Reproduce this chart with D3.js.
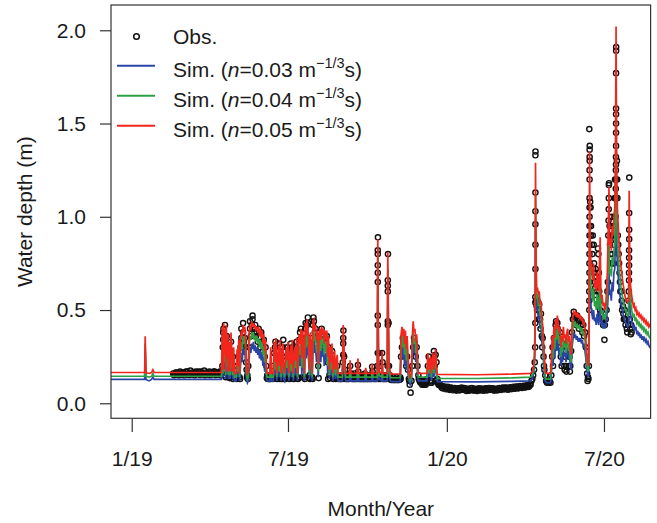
<!DOCTYPE html>
<html><head><meta charset="utf-8">
<script src="https://cdn.jsdelivr.net/npm/d3@7"></script>
<style>
body{margin:0;background:#fff}
svg{display:block}
text{font-family:"Liberation Sans",Arial,Helvetica,sans-serif;fill:#1a1a1a}
</style>
</head><body>
<svg id="chart" width="657" height="523"></svg>
<script>
// ---------- data (day = days since 1 Jan 2019) ----------
const xTickDates = ["2019-01-01","2019-07-01","2020-01-01","2020-07-01"];
const xTickLabels = ["1/19","7/19","1/20","7/20"];
const yTicks = [0, 0.5, 1.0, 1.5, 2.0];
const seriesNames = ["Obs.", "n=0.03", "n=0.04", "n=0.05"];

// simulated depth rows: [day, n=0.03, n=0.04, n=0.05]
const simEarly2019 = [
 [-24,.128,.145,.165],[15,.128,.145,.165],[15.6,.28,.32,.36],[16.5,.128,.145,.165],
 [20,.12,.14,.16],[23,.128,.145,.165],[24.5,.14,.16,.18],[26,.128,.145,.165],[104,.128,.145,.165]
];
const simWet2019 = [
 [105,.30,.35,.41],[105.7,.14,.16,.18],[106.5,.32,.38,.43],[107.3,.18,.22,.26],[108,.28,.34,.40],
 [108.8,.13,.15,.17],[109.6,.30,.36,.42],[110.5,.16,.2,.24],[111.3,.25,.31,.37],[112,.13,.15,.17],
 [113,.22,.27,.33],[114,.13,.15,.17],[115,.26,.32,.38],[116,.18,.22,.27],[117,.13,.15,.17],
 [118,.2,.24,.3],[119,.12,.14,.16],[121,.12,.14,.16],[122,.18,.23,.29],[123,.14,.17,.2],
 [124,.22,.28,.34],[125,.12,.14,.16],[126,.2,.26,.33],[127,.27,.33,.39],[128,.22,.29,.36],
 [129,.3,.36,.42],[130,.26,.32,.38],[131,.29,.35,.41],[132,.2,.27,.34],[133,.13,.16,.2],
 [134,.11,.13,.16],[135,.12,.14,.17],[136,.24,.31,.38],[137,.3,.36,.41],[138,.27,.34,.4],
 [139,.32,.38,.44],[140,.29,.35,.41],[141,.33,.38,.43],[142,.28,.34,.4],[143,.31,.36,.42],
 [144,.27,.33,.39],[145,.3,.36,.41],[146,.26,.32,.38],[147,.29,.35,.41],[148,.24,.3,.36],
 [149,.28,.34,.4],[150,.23,.29,.35],[151,.27,.33,.39],[152,.2,.26,.32],[153,.25,.31,.37],
 [154,.17,.22,.28],[155,.22,.28,.34],[156,.13,.16,.2],[157,.12,.14,.16],[160,.12,.14,.16],
 [161,.2,.25,.3],[162,.12,.14,.16],[164,.12,.14,.16],[165,.22,.27,.33],[166,.15,.18,.22],
 [167,.25,.3,.35],[168,.12,.14,.16],[170,.2,.25,.31],[171,.14,.17,.2],[172,.24,.29,.34],
 [173,.12,.14,.16],[175,.22,.27,.32],[176,.13,.16,.19],[177,.12,.14,.16],[179,.2,.25,.3],
 [180,.15,.19,.23],[181,.23,.28,.33],[182,.12,.14,.16],[184,.21,.26,.31],[185,.14,.17,.21],
 [186,.24,.29,.34],[187,.12,.14,.16],[189,.2,.25,.3],[190,.15,.19,.23],[191,.26,.31,.35],
 [192,.12,.14,.16],[194,.25,.31,.37],[195,.2,.26,.32],[196,.28,.34,.4],[197,.15,.19,.24],
 [198,.27,.33,.39],[199,.2,.26,.31],[200,.12,.14,.16],[201,.3,.37,.43],[202,.24,.3,.36],
 [203,.32,.39,.45],[204,.28,.34,.4],[205,.22,.28,.34],[206,.13,.15,.18],[207,.26,.32,.38],
 [208,.2,.25,.3],[209,.12,.14,.16],[210,.3,.37,.44],[211,.33,.39,.45],[212,.27,.33,.39],
 [213,.3,.36,.42],[214,.22,.28,.34],[215,.27,.33,.39],[216,.14,.17,.21],[217,.24,.3,.36],
 [218,.28,.34,.4],[219,.22,.28,.34],[220,.3,.36,.41],[221,.25,.31,.37],[222,.29,.35,.4],
 [223,.2,.26,.32],[224,.27,.33,.39],[225,.22,.28,.34],[226,.28,.34,.39],[227,.16,.2,.25],
 [228,.24,.3,.36],[229,.13,.15,.18],[230,.2,.25,.3],[231,.15,.18,.22],[232,.22,.27,.32],
 [233,.12,.14,.16],[235,.2,.24,.28],[236,.13,.15,.18],[238,.18,.22,.26],[239,.12,.14,.16],
 [244,.12,.14,.16],[245,.3,.36,.42],[246,.2,.24,.28],[247,.14,.17,.2],[248,.12,.14,.16],
 [252,.12,.14,.16],[253,.17,.2,.23],[254,.12,.14,.16],[261,.12,.14,.16],[262,.18,.21,.24],
 [263,.12,.14,.16],[270,.12,.14,.16],[271,.15,.17,.19],[272,.12,.14,.16],[278,.12,.14,.16],
 [278.5,.17,.19,.21],[279.5,.12,.14,.16],[284.5,.12,.14,.16],[285,.75,.83,.88],[285.8,.2,.22,.25],
 [286.5,.13,.15,.17],[289.5,.12,.14,.16],[290,.22,.25,.28],[290.8,.12,.14,.16],[296,.12,.14,.16],
 [296.6,.6,.72,.81],[297.3,.35,.42,.48],[298,.15,.17,.2],[300,.116,.137,.157],[311,.116,.137,.157],
 [312,.25,.31,.37],[313,.3,.36,.41],[314,.24,.3,.36],[315,.32,.38,.4],[316,.2,.26,.32],
 [317,.28,.34,.39],[318,.18,.23,.29],[319,.25,.3,.36],[320,.16,.2,.25],[321,.12,.14,.17],
 [322.5,.1,.12,.14],[324,.12,.14,.16],[325,.25,.3,.36],[326,.33,.38,.44],[327,.27,.32,.38],
 [328,.3,.35,.4],[329,.22,.27,.33],[330,.26,.32,.37],[331,.16,.2,.25],[332,.12,.14,.16],
 [342,.12,.14,.16],[343,.2,.23,.27],[344,.14,.16,.18],[346,.18,.21,.25],[347,.12,.14,.16],
 [349,.2,.24,.27],[350,.14,.16,.18],[352,.22,.25,.29],[353,.15,.17,.2]
];
const simDry = [
 [354,.116,.134,.155],[400,.115,.133,.153],[440,.118,.136,.156],[462,.12,.14,.16]
];
const simWet2020 = [
 [464,.13,.15,.17],[465.5,.16,.18,.2],[466.5,.2,.23,.26],[467.3,.35,.4,.45],[467.7,.98,1.12,1.29],
 [468.3,.62,.72,.8],[469,.5,.56,.6],[470,.52,.58,.62],[471,.45,.52,.58],[472,.48,.54,.6],
 [473,.4,.47,.53],[474,.42,.48,.55],[475,.33,.4,.46],[476,.3,.36,.42],[477,.22,.27,.33],
 [478,.16,.2,.25],[479,.12,.14,.17],[480,.11,.13,.16],[485,.11,.13,.16],[486,.15,.18,.22],
 [487,.26,.31,.36],[488,.2,.24,.29],[489,.3,.35,.41],[490,.24,.29,.35],[491,.33,.39,.45],
 [492,.28,.34,.4],[493,.35,.41,.47],[494,.3,.36,.42],[495,.26,.32,.38],[496,.3,.36,.41],
 [497,.2,.25,.3],[498,.26,.31,.36],[499,.22,.28,.33],[500,.3,.36,.41],[501,.25,.3,.35],
 [502,.27,.32,.37],[503,.22,.27,.32],[504,.28,.33,.38],[505,.3,.35,.4],[506,.24,.28,.33],
 [507,.27,.31,.36],[508,.2,.24,.28],[509,.18,.22,.26],[510,.3,.36,.42],[511,.34,.4,.46],
 [512,.38,.44,.49],[513,.35,.42,.48],[514,.37,.43,.49],[515,.34,.41,.47],[516,.36,.42,.48],
 [517,.33,.4,.46],[518,.35,.42,.48],[519,.33,.39,.45],[520,.35,.41,.47],[521,.32,.38,.44],
 [522,.34,.4,.46],[523,.3,.36,.42],[524,.32,.38,.44],[525,.28,.34,.4],[526,.24,.29,.34],
 [527,.18,.22,.27],[528,.15,.18,.22],[529,.14,.17,.2],[529.8,.3,.38,.46],[530.3,.82,1.0,1.35],
 [531,.6,.72,.85],[532,.52,.62,.75],[533,.48,.58,.7],[534,.45,.55,.66],[535,.5,.62,.75],
 [536,.44,.52,.62],[537,.46,.55,.66],[538,.42,.5,.6],[539,.48,.58,.7],[540,.44,.52,.63],
 [541,.42,.5,.6],[542,.5,.65,.8],[542.6,.55,.7,.89],[543.3,.45,.53,.62],[544,.42,.48,.56],
 [545,.44,.5,.57],[546,.4,.45,.52],[547,.43,.48,.54],[548,.4,.45,.5],[549,.42,.47,.52],
 [550,.45,.52,.6],[551,.5,.6,.72],[552,.6,.75,.95],[552.8,.7,.88,1.16],[553.5,.58,.7,.85],
 [554.5,.6,.72,.88],[555.5,.55,.68,.82],[556.5,.65,.78,.95],[557.5,.6,.74,.9],[558.5,.7,.82,1.0],
 [559.5,.72,.85,1.05],[560.3,.9,1.1,1.3],[561,1.4,1.79,2.02],[561.7,.85,1.0,1.2],[562.5,.75,.88,1.05],
 [563.5,.68,.8,.95],[564.5,.62,.72,.86],[565.5,.58,.68,.8],[566.5,.55,.63,.74],[567.5,.52,.6,.7],
 [568.5,.5,.57,.66],[569.5,.47,.54,.63],[570.5,.46,.52,.6],[571.5,.44,.5,.57],[572.5,.43,.49,.56],
 [573.5,.42,.48,.55],[574.5,.41,.47,.54],[575.5,.42,.48,.55],[576.2,.72,.92,1.14],[576.9,.55,.63,.72],
 [577.8,.48,.55,.63],[579,.44,.5,.58],[580,.42,.48,.55],[581,.4,.46,.52],[582,.42,.48,.53],
 [583,.39,.44,.5],[584,.41,.46,.51],[585,.37,.43,.48],[586,.39,.44,.49],[587,.36,.42,.47],
 [588,.38,.43,.48],[589,.35,.41,.46],[590,.37,.42,.47],[591,.34,.4,.45],[592,.36,.41,.46],
 [593,.34,.39,.44],[594,.35,.4,.45],[595,.33,.38,.43],[596,.34,.39,.44],[597,.32,.37,.42],
 [598,.33,.38,.43],[599,.31,.36,.41],[600,.3,.35,.42],[601,.3,.35,.41]
];

// observed depth: [day, depth]
const obsEarly2019 = [
 [48,.16],[49,.15],[50,.155],[51,.165],[52,.165],[53,.155],[54,.16],[55,.15],[56,.17],[57,.16],
 [58,.155],[59,.165],[60,.165],[61,.15],[62,.16],[63,.17],[64,.17],[65,.155],[66,.16],[67,.152],
 [68,.175],[69,.16],[70,.165],[71,.155],[72,.16],[73,.15],[74,.17],[75,.158],[76,.16],[77,.17],
 [78,.165],[79,.152],[80,.17],[81,.16],[82,.16],[83,.155],[84,.175],[85,.15],[86,.165],[87,.16],
 [88,.16],[89,.155],[90,.17],[91,.15],[92,.165],[93,.158],[94,.16],[95,.17],[96,.17],[97,.152],
 [98,.165],[99,.155],[100,.16],[101,.165],[102,.17],[103,.15],[104,.165]
];
const obsBase2019 = [
 [113.5,.135],[117.5,.13],[120,.135],[121.5,.13],[125.5,.13],[133.5,.14],[134.5,.13],[156.5,.135],
 [157.5,.13],[158.5,.135],[159,.13],[160.5,.135],[161,.13],[162.5,.135],[163.5,.13],[167.5,.135],
 [168.5,.13],[169,.14],[171.5,.13],[173.5,.135],[174,.13],[176.5,.13],[177.5,.135],[178,.13],
 [182.5,.135],[183,.13],[187.5,.13],[188,.135],[192.5,.13],[193,.135],[197.5,.14],[200.5,.13],
 [205.5,.135],[206.5,.13],[208.5,.135],[209.5,.13],[216.5,.135],[227.5,.13],[229.5,.135],[233.5,.13],
 [234,.135],[236.5,.13],[237,.135],[239.5,.13],[240,.135],[241.5,.13],[242,.14],[242.5,.13],
 [243.5,.135],[244,.13],[247.5,.13],[248.5,.135],[249,.13],[249.5,.14],[250.5,.13],[251,.135],
 [251.5,.13],[254.5,.135],[255,.13],[255.5,.14],[256.5,.13],[257,.135],[257.5,.13],[258.5,.14],
 [259,.13],[259.5,.135],[260.5,.13],[261,.14],[263,.13],[263.5,.135],[264.5,.13],[265,.135],
 [265.5,.13],[266.5,.135],[267,.13],[267.5,.14],[268.5,.13],[269,.135],[269.5,.13],[270.5,.135],
 [271,.13],[271.5,.14],[272.5,.13],[273,.135],[273.5,.13],[274.5,.135],[275,.13],[275.5,.14],
 [276.5,.13],[277,.135],[277.5,.13],[280,.135],[280.5,.13],[281.5,.135],[282,.13],[282.5,.14],
 [283.5,.13],[284,.135],[286,.13],[287.5,.135],[288.5,.13],[289,.135],[291.5,.13],[292,.135],
 [292.5,.13],[293.5,.135],[294,.13],[294.5,.14],[295.5,.13],[298.5,.13],[299.5,.135],[300,.13],
 [300.5,.125],[301.5,.13],[302,.125],[302.5,.13],[303.5,.125],[304,.13],[304.5,.125],[305.5,.13],
 [306,.125],[306.5,.13],[307.5,.125],[308,.13],[308.5,.125],[309.5,.13],[310,.125],[310.5,.13],
 [311.5,.13],[321.5,.12],[332.5,.13],[333.5,.12],[334.5,.11],[335,.12],[335.5,.11],[336.5,.1],
 [337,.11],[337.5,.1],[338.5,.11],[339,.1],[339.5,.11],[340.5,.1],[341,.11],[341.5,.12],
 [345.5,.12],[346,.11],[346.5,.12],[347.5,.11],[351.5,.12],[354.5,.11],[355.5,.1],[356.5,.105],[357,.095]
];
const obsWet2019 = [
 [105,.2],[105.5,.3],[106,.38],[106,.34],[106.3,.4],[107,.15],[108,.42],[108,.36],[108.5,.3],[109,.14],
 [110,.36],[110,.3],[111,.2],[112,.3],[112,.25],[113,.14],[114,.2],[115,.33],[115,.28],[116,.15],
 [117,.25],[118,.14],[119,.2],[119.5,.15],[121,.14],[122,.2],[123,.15],[124,.25],[125,.14],[126,.3],
 [127,.35],[127,.4],[128,.3],[129,.43],[129,.38],[130,.33],[131,.35],[132,.3],[132.5,.22],[133,.18],
 [134,.15],[135,.2],[136,.3],[137,.4],[137,.44],[138,.36],[139,.42],[140,.47],[140,.45],[141,.4],
 [142,.38],[143,.42],[144,.36],[145,.38],[146,.33],[147,.4],[148,.35],[149,.3],[150,.38],[151,.33],
 [152,.28],[153,.34],[154,.25],[155,.3],[156,.2],[157,.15],[158,.14],[160,.13],[162,.14],[163,.2],
 [164,.15],[165,.27],[166,.3],[166.5,.33],[167,.2],[168,.14],[170,.28],[170.5,.32],[171,.18],[172,.3],
 [173,.14],[175,.3],[175.5,.34],[176,.2],[177,.14],[179,.25],[180,.3],[181,.27],[182,.14],[184,.28],
 [184.5,.32],[185,.2],[186,.3],[187,.14],[189,.26],[190,.3],[191,.33],[192,.14],[194,.34],[195,.38],
 [196,.4],[197,.25],[198,.35],[199,.3],[200,.14],[201,.4],[201.5,.43],[202,.35],[203,.42],[204,.46],
 [204.3,.43],[205,.32],[206,.15],[207,.35],[208,.28],[209,.14],[210,.42],[210.5,.46],[211,.44],[212,.38],
 [213,.4],[214,.32],[215,.36],[216,.2],[217,.33],[218,.38],[219,.3],[220,.4],[221,.34],[222,.37],
 [223,.27],[224,.35],[225,.3],[226,.36],[227,.22],[228,.3],[229,.15],[230,.25],[231,.2],[232,.28],
 [233,.14],[235,.22],[236,.15],[238,.2],[239,.14],[241,.14],[243,.15],[244.5,.22],[245,.26],[245,.32],
 [245,.35],[245.2,.39],[246,.25],[247,.18],[248,.15],[250,.15],[252,.16],[253,.2],[254,.16],[256,.15],
 [258,.16],[260,.15],[262,.205],[262.5,.17],[264,.15],[266,.14],[268,.15],[270,.16],[272,.15],[274,.14],
 [276,.15],[278.5,.196],[279,.17],[281,.15],[283,.14],[284.5,.2],[285,.27],[285,.42],[285,.47],[285,.65],
 [285,.7],[285,.74],[285,.8],[285,.82],[285.2,.89],[286.5,.27],[287,.2],[288,.15],[290,.27],[290.5,.22],
 [291,.15],[293,.14],[295,.15],[296.4,.2],[296.6,.42],[296.6,.44],[296.6,.6],[296.6,.63],[296.6,.66],[296.8,.8],
 [297.5,.43],[298,.2],[299,.15],[301,.13],[303,.14],[305,.13],[307,.14],[309,.13],[311,.14],[312,.25],
 [313,.3],[314,.35],[314.5,.33],[315,.28],[316,.3],[317,.25],[318,.2],[319,.25],[320,.18],[321,.13],
 [322,.1],[323,.057],[324,.12],[325,.2],[326,.3],[327,.35],[327.5,.33],[328,.28],[329,.25],[330,.3],
 [331,.2],[332,.15],[334,.12],[336,.11],[338,.1],[340,.12],[342,.13],[343,.2],[344,.25],[345,.15],
 [347,.12],[348,.2],[349,.22],[350,.28],[350.5,.25],[351,.2],[352,.26],[353,.22],[354,.13],[355,.11],[356,.1]
];
const obsDry = [
 [358,.095],[359,.085],[360,.08],[361,.09],[362,.09],[363,.08],[364,.075],[365,.085],[366,.088],[367,.078],
 [368,.072],[369,.082],[370,.085],[371,.075],[372,.07],[373,.08],[374,.082],[375,.072],[376,.068],[377,.078],
 [378,.08],[379,.07],[380,.07],[381,.08],[382,.085],[383,.075],[384,.072],[385,.082],[386,.08],[387,.07],
 [388,.066],[389,.076],[390,.078],[391,.068],[392,.07],[393,.08],[394,.082],[395,.072],[396,.068],[397,.076],
 [398,.078],[399,.07],[400,.066],[401,.075],[402,.08],[403,.07],[404,.07],[405,.079],[406,.077],[407,.068],
 [408,.068],[409,.078],[410,.08],[411,.07],[412,.07],[413,.08],[414,.082],[415,.074],[416,.072],[417,.08],
 [418,.08],[419,.07],[420,.068],[421,.076],[422,.078],[423,.07],[424,.07],[425,.08],[426,.082],[427,.074],
 [428,.072],[429,.082],[430,.085],[431,.076],[432,.075],[433,.084],[434,.083],[435,.075],[436,.073],[437,.082],
 [438,.086],[439,.078],[440,.076],[441,.086],[442,.088],[443,.08],[444,.078],[445,.088],[446,.09],[447,.082],
 [448,.08],[449,.09],[450,.092],[451,.084],[452,.082],[453,.092],[454,.094],[455,.086],[456,.085],[457,.095],
 [458,.096],[459,.09],[460,.088],[461,.098],[462,.1]
];
const obsWet2020 = [
 [463,.12],[464,.13],[465,.15],[466,.18],[466.8,.22],[467.3,.3],[467.5,.43],[467.5,.54],[467.5,.57],[467.6,.72],
 [467.6,.85],[467.6,.96],[467.6,1.03],[467.6,1.13],[467.6,1.33],[467.7,1.35],[468.5,.55],[469,.52],[469.5,.5],[470,.55],
 [471,.5],[471.5,.45],[472,.53],[473,.45],[473.5,.4],[474,.48],[475,.36],[475.5,.3],[476,.35],[477,.25],
 [477.5,.2],[478,.18],[479,.15],[480,.12],[481,.11],[482,.12],[483,.11],[484,.12],[485,.11],[486,.15],
 [487,.25],[487.5,.3],[488,.2],[489,.35],[490,.3],[491,.42],[491.5,.44],[492,.38],[493,.43],[493.5,.4],
 [494,.35],[495,.3],[496,.38],[497,.25],[498,.2],[499,.32],[500,.28],[501,.2],[501.5,.18],[502,.25],
 [503,.2],[503.5,.17],[504,.3],[505,.26],[506,.2],[507,.25],[507.5,.17],[508,.2],[509,.28],[510,.38],
 [511,.45],[512,.49],[512.5,.47],[513,.45],[514,.46],[515,.42],[516,.47],[517,.44],[518,.4],[519,.45],
 [520,.42],[521,.44],[522,.38],[523,.42],[524,.36],[525,.38],[526,.3],[527,.2],[527.5,.16],[528,.12],
 [528.5,.14],[529,.13],[529.5,.2],[530,.5],[530,.55],[530,.6],[530.2,.65],[530.2,.7],[530.2,.75],[530.2,.8],
 [530.2,.85],[530.3,.9],[530.3,.95],[530.3,1.0],[530.3,1.05],[530.3,1.1],[530.3,1.2],[530.3,1.25],[530.4,1.3],[530.4,1.32],
 [530.4,1.36],[530.5,1.38],[530,1.47],[531,1.08],[531.5,1.05],[532,.95],[532,.9],[533,.85],[533.5,.8],[534,.9],
 [534.5,.72],[535,.85],[535.5,.75],[536,.7],[536.5,.65],[537,.62],[537.5,.72],[538,.58],[538.5,.68],[539,.6],
 [540,.83],[540.5,.8],[541,.7],[541.5,.6],[542,.55],[542.5,.5],[543,.48],[544,.47],[545,.45],[546,.42],
 [547,.45],[547.5,.34],[548,.42],[549,.45],[550,.5],[551,.6],[551.5,.65],[552,.9],[552.3,.98],[552.5,1.04],
 [552.6,1.1],[552.7,1.17],[552.8,1.18],[553.5,.95],[554,.85],[554.5,.8],[555,.9],[555.5,.75],[556,1.0],[556.5,.8],
 [557,.9],[557.5,.75],[558,.95],[558.5,.85],[559,1.0],[559.5,1.1],[559.8,1.2],[560.2,.88],[560.4,.95],[560.5,1.0],
 [560.6,1.1],[560.7,1.15],[560.8,1.2],[560.8,1.25],[560.9,1.28],[560.9,1.32],[561,1.38],[561,1.45],[561,1.5],[561,1.55],
 [561,1.58],[561,1.77],[561.1,1.89],[561.1,1.91],[562,1.3],[562.3,1.2],[562.5,1.1],[563,.9],[563.5,.85],[564,.8],
 [564.5,.75],[565,.7],[565.5,.65],[566,.6],[567,.6],[567.5,.55],[568,.5],[569,.52],[569.5,.48],[570,.45],
 [571,.5],[571.5,.45],[572,.42],[573,.45],[573.5,.4],[574,.38],[575,.42],[575.5,.55],[575.8,.6],[576,.66],
 [576,.7],[576.1,.74],[576.1,.78],[576.1,.82],[576.2,.88],[576.2,.93],[576.2,1.02],[576.3,1.21],[577,.45],[577.5,.4],
 [578,.37],[578.5,.42],[579,.38]
];

// ---------- drawing ----------
const svg = d3.select("#chart");
const parse = d3.timeParse("%Y-%m-%d");
const t0 = new Date(2019, 0, 1).getTime();
const dateOf = d => new Date(t0 + d * 864e5);

const plot = {left: 111, right: 650.6, top: 5, bottom: 418.3};
const x = d3.scaleTime()
  .domain([new Date(2018, 11, 8), new Date(2020, 7, 24)])
  .range([plot.left, plot.right]);
const y = d3.scaleLinear().domain([-0.0805, 2.1355]).range([plot.bottom, plot.top]);

const colors = {n003: "#2a44a8", n004: "#2ea043", n005: "#f2261c"};

svg.append("defs").append("clipPath").attr("id", "clip")
  .append("rect").attr("x", plot.left).attr("y", plot.top)
  .attr("width", plot.right - plot.left).attr("height", plot.bottom - plot.top);

const g = svg.append("g").attr("clip-path", "url(#clip)");

const obs = [].concat(obsEarly2019, obsBase2019, obsWet2019, obsDry, obsWet2020);
const sim = [].concat(simEarly2019, simWet2019, simDry, simWet2020).sort((a, b) => a[0] - b[0]);

g.append("g").selectAll("circle").data(obs).join("circle")
  .attr("cx", d => x(dateOf(d[0]))).attr("cy", d => y(d[1]))
  .attr("r", 2.6).attr("fill", "none").attr("stroke", "#111").attr("stroke-width", 1.4);

[["n003", 1], ["n004", 2], ["n005", 3]].forEach(([key, idx]) => {
  const line = d3.line().x(d => x(dateOf(d[0]))).y(d => y(d[idx]));
  g.append("path").datum(sim).attr("d", line)
    .attr("fill", "none").attr("stroke", colors[key]).attr("stroke-width", 1.7)
    .attr("stroke-linejoin", "miter");
});

// frame
svg.append("rect").attr("x", plot.left).attr("y", plot.top)
  .attr("width", plot.right - plot.left).attr("height", plot.bottom - plot.top)
  .attr("fill", "none").attr("stroke", "#333").attr("stroke-width", 1.2);

// y axis
const yAxis = svg.append("g").attr("transform", `translate(${plot.left},0)`)
  .call(d3.axisLeft(y).tickValues(yTicks).tickFormat(d3.format(".1f")).tickSize(11).tickPadding(14));
yAxis.select(".domain").remove();
yAxis.selectAll(".tick line").attr("stroke", "#333").attr("stroke-width", 1.2);
yAxis.selectAll(".tick text").attr("font-size", 21).attr("fill", "#1a1a1a")
  .attr("font-family", '"Liberation Sans", Arial, sans-serif');

// x axis
const xAxis = svg.append("g").attr("transform", `translate(0,${plot.bottom + 0.7})`)
  .call(d3.axisBottom(x).tickValues(xTickDates.map(parse))
    .tickFormat((d, i) => xTickLabels[i]).tickSize(13).tickPadding(18.6));
xAxis.select(".domain").remove();
xAxis.selectAll(".tick line").attr("stroke", "#333").attr("stroke-width", 1.2);
xAxis.selectAll(".tick text").attr("font-size", 21).attr("fill", "#1a1a1a")
  .attr("font-family", '"Liberation Sans", Arial, sans-serif');

// axis titles
svg.append("text").attr("x", (plot.left + plot.right) / 2).attr("y", 516)
  .attr("text-anchor", "middle").attr("font-size", 21).text("Month/Year");
svg.append("text").attr("transform", `translate(31.5,${(plot.top + plot.bottom) / 2}) rotate(-90)`)
  .attr("text-anchor", "middle").attr("font-size", 21).text("Water depth (m)");

// legend
const lg = svg.append("g");
lg.append("circle").attr("cx", 136.5).attr("cy", 36.5).attr("r", 2.8)
  .attr("fill", "none").attr("stroke", "#111").attr("stroke-width", 1.5);
lg.append("text").attr("x", 173).attr("y", 44).attr("font-size", 21).text(seriesNames[0]);
[["n003", "0.03"], ["n004", "0.04"], ["n005", "0.05"]].forEach(([key, val], i) => {
  const ly = 65.7 + i * 30;
  lg.append("line").attr("x1", 117).attr("x2", 155).attr("y1", ly).attr("y2", ly)
    .attr("stroke", colors[key]).attr("stroke-width", 2);
  const t = lg.append("text").attr("x", 173).attr("y", ly + 11).attr("font-size", 21);
  t.append("tspan").text("Sim. (");
  t.append("tspan").attr("font-style", "italic").text("n");
  t.append("tspan").text("=" + val + " m");
  t.append("tspan").attr("font-size", 14.5).attr("dy", -8.5).text("\u22121/3");
  t.append("tspan").attr("dy", 8.5).text("s)");
});
</script>
</body></html>
